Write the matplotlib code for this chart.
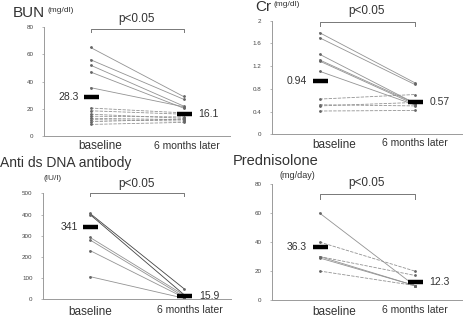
import matplotlib
matplotlib.use("Agg")
import matplotlib.pyplot as plt

plt.rcParams['font.family'] = ['Liberation Sans', 'DejaVu Sans']

W, H = 463, 318

# ---- data ----
bun_base = [65, 56, 52, 47, 35.5, 20.5, 18.5, 16, 14.5, 13, 12, 10.5, 8.5]
bun_late = [29, 27, 22, 20.5, 21.5, 17, 16, 13, 14, 12, 11, 12.5, 10]
bun_mean = [28.3, 16.1]

cr_base = [1.79, 1.70, 1.41, 1.31, 1.29, 1.11, 0.62, 0.52, 0.50, 0.41]
cr_late = [0.91, 0.88, 0.55, 0.55, 0.53, 0.52, 0.70, 0.50, 0.56, 0.42]
cr_mean = [0.94, 0.57]

dna_base = [405, 400, 292, 280, 230, 107]
dna_late = [50, 22, 20, 12, 8, 5]
dna_mean = [341, 15.9]

pred_base = [60, 40, 30, 30, 29, 20]
pred_late = [10, 20, 17, 10, 10, 10]
pred_mean = [36.3, 12.3]

categories = ["baseline", "6 months later"]

fig = plt.figure(figsize=(W / 100, H / 100), dpi=100)
fig.patch.set_facecolor('white')

TXT = '#333333'
LN = '#939393'
SP = '#9a9a9a'


def px_axes(left, right, top, bottom):
    return fig.add_axes([left / W, 1 - bottom / H, (right - left) / W, (bottom - top) / H])


def ftext(x, y, s, **kw):
    fig.text(x / W, 1 - y / H, s, color=TXT, **kw)


def panel(ax, base, late, mean, ymax, yticks, ytl, mean_fmt, dashed_idx=()):
    ax.set_xlim(-0.5, 1.5)
    ax.set_ylim(0, ymax)
    for i, (b, l) in enumerate(zip(base, late)):
        ls = (0, (4, 1.5)) if i in dashed_idx else '-'
        ax.plot([0, 1], [b, l], color=LN, lw=0.6, ls=ls, marker='o', ms=1.0,
                mfc='#666666', mec='#666666', zorder=2)
    for x, m in zip([0, 1], mean):
        ax.plot([x - 0.07, x + 0.09], [m, m], color='black', lw=3.2,
                solid_capstyle='butt', zorder=3)
    ax.text(-0.13, mean[0], mean_fmt[0], ha='right', va='center', fontsize=7.5, color=TXT)
    ax.text(1.16, mean[1], mean_fmt[1], ha='left', va='center', fontsize=7.5, color=TXT)
    ax.set_yticks(yticks)
    ax.set_yticklabels(ytl)
    ax.set_xticks([])
    ax.tick_params(axis='y', labelsize=4.5, length=1.5, width=0.5, colors=SP,
                   labelcolor='#444444', pad=6)
    for s in ['top', 'right']:
        ax.spines[s].set_visible(False)
    for s in ['left', 'bottom']:
        ax.spines[s].set_color(SP)
        ax.spines[s].set_linewidth(0.7)
    ax.patch.set_alpha(0)


def bracket(ax, y, tick):
    ax.plot([0, 0, 1, 1], [y - tick, y, y, y - tick], color='#777777', lw=0.7,
            clip_on=False)


# ---- BUN ----
ax1 = px_axes(44, 230, 27, 136)
panel(ax1, bun_base, bun_late, bun_mean, 80, [0, 20, 40, 60, 80],
      ['0', '20', '40', '60', '80'], ['28.3', '16.1'], dashed_idx=range(5, 13))
bracket(ax1, 78.5, 2.5)
ax1.text(0.5, 81.5, 'p<0.05', ha='center', va='bottom', fontsize=8.5, color=TXT)
ftext(13, 13, 'BUN', fontsize=11, va='center')
ftext(48, 11, '(mg/dl)', fontsize=6, va='center')
ftext(100, 146, categories[0], fontsize=8.5, ha='center', va='center')
ftext(187, 146, categories[1], fontsize=7.5, ha='center', va='center')

# ---- Cr ----
ax2 = px_axes(272, 462, 20.7, 134.3)
panel(ax2, cr_base, cr_late, cr_mean, 2, [0, 0.4, 0.8, 1.2, 1.6, 2],
      ['0', '0.4', '0.8', '1.2', '1.6', '2'], ['0.94', '0.57'], dashed_idx=range(6, 10))
bracket(ax2, 1.97, 0.07)
ax2.text(0.5, 2.06, 'p<0.05', ha='center', va='bottom', fontsize=8.5, color=TXT)
ftext(255, 7, 'Cr', fontsize=11, va='center')
ftext(274, 5, '(mg/dl)', fontsize=6, va='center')
ftext(334, 145, categories[0], fontsize=8.5, ha='center', va='center')
ftext(415, 143, categories[1], fontsize=7.5, ha='center', va='center')

# ---- Anti ds DNA ----
ax3 = px_axes(43, 231, 193.3, 299.3)
panel(ax3, dna_base, dna_late, dna_mean, 500, [0, 100, 200, 300, 400, 500],
      ['0', '100', '200', '300', '400', '500'], ['341', '15.9'])
ax3.lines[0].set_color('#444444')
ax3.lines[1].set_color('#444444')
bracket(ax3, 500, 15)
ax3.text(0.5, 515, 'p<0.05', ha='center', va='bottom', fontsize=8.5, color=TXT)
ftext(0, 163, 'Anti ds DNA antibody', fontsize=10, va='center')
ftext(44, 179, '(IU/l)', fontsize=6, va='center')
ftext(90, 312, categories[0], fontsize=8.5, ha='center', va='center')
ftext(190, 310, categories[1], fontsize=7.5, ha='center', va='center')

# ---- Prednisolone ----
ax4 = px_axes(272, 462, 184, 300)
panel(ax4, pred_base, pred_late, pred_mean, 80, [0, 20, 40, 60, 80],
      ['0', '20', '40', '60', '80'], ['36.3', '12.3'], dashed_idx=[1, 2, 5])
bracket(ax4, 73, 3)
ax4.text(0.5, 76.5, 'p<0.05', ha='center', va='bottom', fontsize=8.5, color=TXT)
ftext(233, 161, 'Prednisolone', fontsize=10.5, va='center')
ftext(280, 176, '(mg/day)', fontsize=6.5, va='center')
ftext(334, 312, categories[0], fontsize=8.5, ha='center', va='center')
ftext(415, 310, categories[1], fontsize=7.5, ha='center', va='center')

fig.savefig('out.png', dpi=100, facecolor='white')
